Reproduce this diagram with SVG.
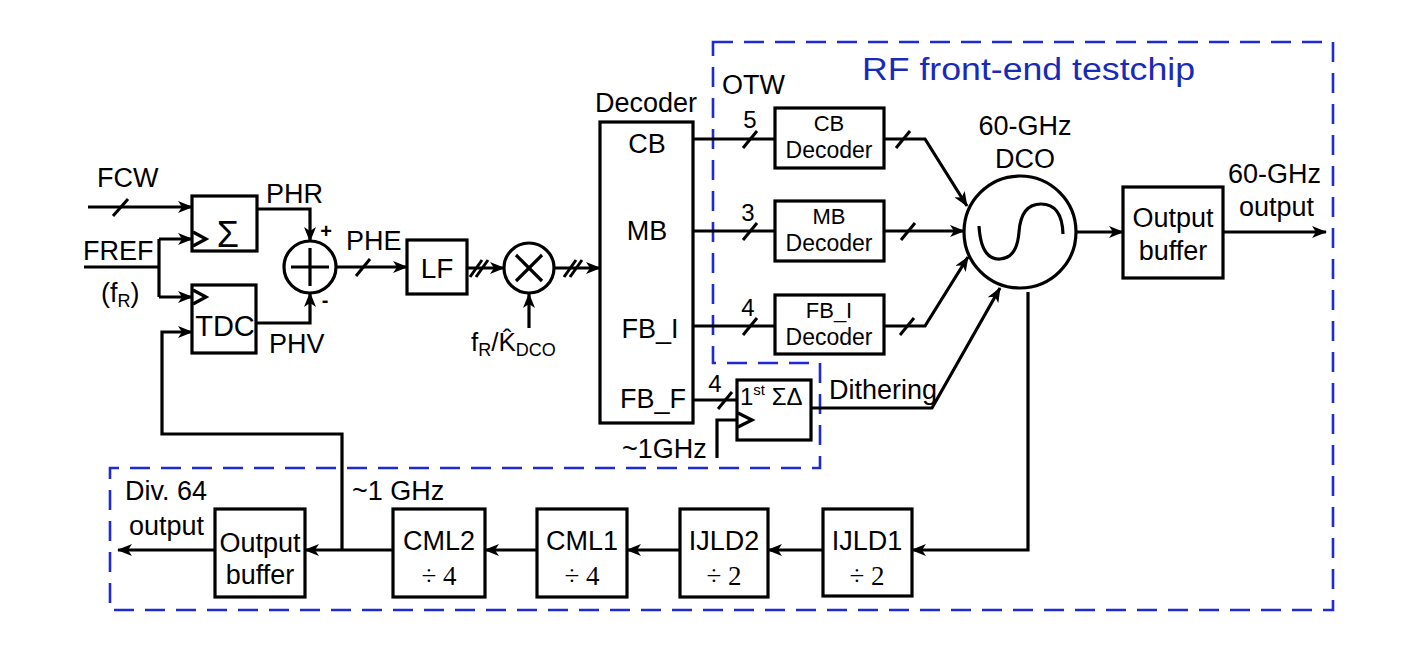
<svg xmlns="http://www.w3.org/2000/svg" width="1416" height="651" viewBox="0 0 1416 651">
<style>
text{font-family:"Liberation Sans",Arial,sans-serif;fill:#000;}
.lbl{font-size:27px;}
.mid{text-anchor:middle;}
.box{fill:#fff;stroke:#000;stroke-width:3.2;}
.w{fill:none;stroke:#000;stroke-width:3.2;}
.sl{fill:none;stroke:#000;stroke-width:3;}
.dash{fill:none;stroke:#1e2ad2;stroke-width:2.6;stroke-dasharray:20 11;}
.ser{font-family:"Liberation Serif","Times New Roman",serif;}
</style>
<defs>
<marker id="ah" markerUnits="userSpaceOnUse" viewBox="0 0 15 12" markerWidth="15" markerHeight="12" refX="14" refY="6" orient="auto">
<path d="M0,0 L15,6 L0,12 L4,6 z" fill="#000"/>
</marker>
</defs>
<rect width="1416" height="651" fill="#fff"/>

<g id="testchip-boundary">
<polygon class="dash" points="713,42 1333,42 1333,610 110,610 110,468 820,468 820,363 713,363"/>
<text x="862" y="80" font-size="31" textLength="333" lengthAdjust="spacingAndGlyphs" style="fill:#1a2ab8">RF front-end testchip</text>
</g>

<g id="connectors">
<line class="w" x1="88" y1="207" x2="192" y2="207" marker-end="url(#ah)"/>
<line class="sl" x1="113" y1="216" x2="128" y2="199"/>
<polyline class="w" points="84,267 159,267"/>
<polyline class="w" points="159,239 159,297"/>
<line class="w" x1="159" y1="239" x2="192" y2="239" marker-end="url(#ah)"/>
<line class="w" x1="159" y1="297" x2="192" y2="297" marker-end="url(#ah)"/>
<polyline class="w" points="258,209 310,209 310,241" marker-end="url(#ah)"/>
<polyline class="w" points="256,323 310,323 310,293" marker-end="url(#ah)"/>
<line class="w" x1="336" y1="267" x2="407" y2="267" marker-end="url(#ah)"/>
<line class="sl" x1="356" y1="276" x2="370" y2="259"/>
<line class="w" x1="467" y1="268" x2="504" y2="268" marker-end="url(#ah)"/>
<line class="sl" x1="470" y1="277" x2="482" y2="260"/>
<line class="sl" x1="476" y1="277" x2="488" y2="260"/>
<line class="w" x1="554" y1="268" x2="600" y2="268" marker-end="url(#ah)"/>
<line class="sl" x1="564" y1="277" x2="576" y2="260"/>
<line class="sl" x1="570" y1="277" x2="582" y2="260"/>
<line class="w" x1="529" y1="328" x2="529" y2="294" marker-end="url(#ah)"/>
<line class="w" x1="693" y1="139" x2="775" y2="139"/>
<line class="sl" x1="743" y1="148" x2="757" y2="131"/>
<line class="w" x1="693" y1="231" x2="775" y2="231"/>
<line class="sl" x1="743" y1="240" x2="757" y2="223"/>
<line class="w" x1="693" y1="326" x2="775" y2="326"/>
<line class="sl" x1="743" y1="335" x2="757" y2="318"/>
<line class="w" x1="693" y1="400" x2="737" y2="400"/>
<line class="sl" x1="718" y1="409" x2="732" y2="392"/>
<polyline class="w" points="884,139 925,139 967,206" marker-end="url(#ah)"/>
<line class="sl" x1="896" y1="148" x2="910" y2="131"/>
<line class="w" x1="884" y1="231" x2="964" y2="231" marker-end="url(#ah)"/>
<line class="sl" x1="901" y1="240" x2="915" y2="223"/>
<polyline class="w" points="884,326 925,326 968,257" marker-end="url(#ah)"/>
<line class="sl" x1="900" y1="335" x2="914" y2="318"/>
<polyline class="w" points="717,458 717,420 737,420"/>
<polyline class="w" points="811,408 932,408 1000,288" marker-end="url(#ah)"/>
<line class="w" x1="1077" y1="232" x2="1123" y2="232" marker-end="url(#ah)"/>
<line class="w" x1="1223" y1="232" x2="1326" y2="232" marker-end="url(#ah)"/>
<polyline class="w" points="1028,292 1028,550 912,550" marker-end="url(#ah)"/>
<line class="w" x1="823" y1="550" x2="768" y2="550" marker-end="url(#ah)"/>
<line class="w" x1="680" y1="550" x2="627" y2="550" marker-end="url(#ah)"/>
<line class="w" x1="537" y1="550" x2="485" y2="550" marker-end="url(#ah)"/>
<line class="w" x1="393" y1="550" x2="305" y2="550" marker-end="url(#ah)"/>
<line class="w" x1="215" y1="550" x2="118" y2="550" marker-end="url(#ah)"/>
<polyline class="w" points="342,550 342,434 162,434 162,332 192,332" marker-end="url(#ah)"/>
</g>

<g id="inputs">
<text class="lbl" x="97" y="187">FCW</text>
<text class="lbl" x="83" y="260">FREF</text>
<text class="lbl" x="101" y="302">(f<tspan font-size="18" dy="5">R</tspan><tspan dy="-5">)</tspan></text>
</g>

<g id="sigma">
<rect class="box" x="192" y="196" width="65" height="55"/>
<polyline class="w" points="193,232 206,239 193,246"/>
<text x="228" y="247" font-size="36" class="mid">Σ</text>
</g>

<g id="tdc">
<rect class="box" x="192" y="285" width="64" height="68"/>
<polyline class="w" points="193,290 206,297 193,304"/>
<text x="225" y="336" font-size="29" class="mid">TDC</text>
</g>

<g id="adder">
<circle class="w" cx="310" cy="267" r="26"/>
<line class="w" x1="291" y1="267" x2="329" y2="267"/>
<line class="w" x1="310" y1="248" x2="310" y2="286"/>
<text class="lbl" x="266" y="203">PHR</text>
<text class="lbl" x="269" y="353">PHV</text>
<text x="326" y="238" font-size="20" font-weight="bold" class="mid">+</text>
<text x="325" y="307" font-size="20" font-weight="bold" class="mid">-</text>
<text class="lbl" x="346" y="250">PHE</text>
</g>

<g id="lf">
<rect class="box" x="407" y="240" width="60" height="54"/>
<text class="mid" x="437" y="278" font-size="28">LF</text>
</g>

<g id="multiplier">
<circle class="w" cx="529" cy="268" r="25"/>
<line class="w" x1="516" y1="255" x2="542" y2="281"/>
<line class="w" x1="542" y1="255" x2="516" y2="281"/>
<text x="471" y="351" font-size="26">f<tspan font-size="18" dy="5">R</tspan><tspan dy="-5">/K&#x302;</tspan><tspan font-size="18" dy="5">DCO</tspan></text>
</g>

<g id="decoder">
<rect class="box" x="600" y="122" width="93" height="301"/>
<text class="lbl mid" x="646" y="112">Decoder</text>
<text class="lbl mid" x="647" y="153">CB</text>
<text class="lbl mid" x="647" y="240">MB</text>
<text class="lbl mid" x="650" y="338">FB_I</text>
<text class="lbl mid" x="653" y="408">FB_F</text>
</g>

<g id="otw">
<text class="lbl" x="722" y="94">OTW</text>
<text x="750" y="128" font-size="24" class="mid">5</text>
<text x="748" y="221" font-size="24" class="mid">3</text>
<text x="748" y="316" font-size="24" class="mid">4</text>
</g>

<g id="cb-decoder">
<rect class="box" x="775" y="108" width="109" height="60"/>
<text x="829" y="131" font-size="22" class="mid">CB</text>
<text x="829" y="158" font-size="23" class="mid">Decoder</text>
</g>

<g id="mb-decoder">
<rect class="box" x="775" y="201" width="109" height="60"/>
<text x="829" y="224" font-size="22" class="mid">MB</text>
<text x="829" y="251" font-size="23" class="mid">Decoder</text>
</g>

<g id="fbi-decoder">
<rect class="box" x="775" y="295" width="109" height="59"/>
<text x="829" y="318" font-size="22" class="mid">FB_I</text>
<text x="829" y="345" font-size="23" class="mid">Decoder</text>
</g>

<g id="sigma-delta">
<rect class="box" x="737" y="380" width="74" height="60"/>
<polyline class="w" points="738,413 752,420 738,427"/>
<text x="740" y="405" font-size="24">1<tspan font-size="15" dy="-10">st</tspan><tspan dy="10"> ΣΔ</tspan></text>
<text x="715" y="392" font-size="24" class="mid">4</text>
<text class="lbl" x="622" y="458">~1GHz</text>
<text class="lbl" x="829" y="399">Dithering</text>
</g>

<g id="dco">
<circle class="w" cx="1020" cy="232" r="56"/>
<path class="w" d="M979,226 Q981,260 1000,259 Q1017,258 1019,232 Q1021,204 1041,204 Q1062,204 1063,234"/>
<text class="lbl mid" x="1025" y="135">60-GHz</text>
<text class="lbl mid" x="1025" y="168">DCO</text>
</g>

<g id="rf-output-buffer">
<rect class="box" x="1123" y="187" width="100" height="91"/>
<text class="lbl mid" x="1173" y="227">Output</text>
<text class="lbl mid" x="1173" y="260">buffer</text>
<text class="lbl" x="1228" y="183">60-GHz</text>
<text class="lbl" x="1239" y="216">output</text>
</g>

<g id="ijld1">
<rect class="box" x="823" y="509" width="89" height="87"/>
<text class="lbl mid" x="867" y="550">IJLD1</text>
<text class="ser mid" x="867" y="585" font-size="27">÷ 2</text>
</g>

<g id="ijld2">
<rect class="box" x="680" y="509" width="88" height="88"/>
<text class="lbl mid" x="724" y="550">IJLD2</text>
<text class="ser mid" x="724" y="585" font-size="27">÷ 2</text>
</g>

<g id="cml1">
<rect class="box" x="537" y="509" width="90" height="88"/>
<text class="lbl mid" x="582" y="550">CML1</text>
<text class="ser mid" x="582" y="585" font-size="27">÷ 4</text>
</g>

<g id="cml2">
<rect class="box" x="393" y="509" width="92" height="88"/>
<text class="lbl mid" x="439" y="550">CML2</text>
<text class="ser mid" x="439" y="585" font-size="27">÷ 4</text>
<text class="lbl" x="352" y="500">~1 GHz</text>
</g>

<g id="div-output-buffer">
<rect class="box" x="215" y="509" width="90" height="88"/>
<text class="lbl mid" x="260" y="552">Output</text>
<text class="lbl mid" x="260" y="584">buffer</text>
<text class="lbl" x="125" y="500">Div. 64</text>
<text class="lbl" x="129" y="535">output</text>
</g>
</svg>
